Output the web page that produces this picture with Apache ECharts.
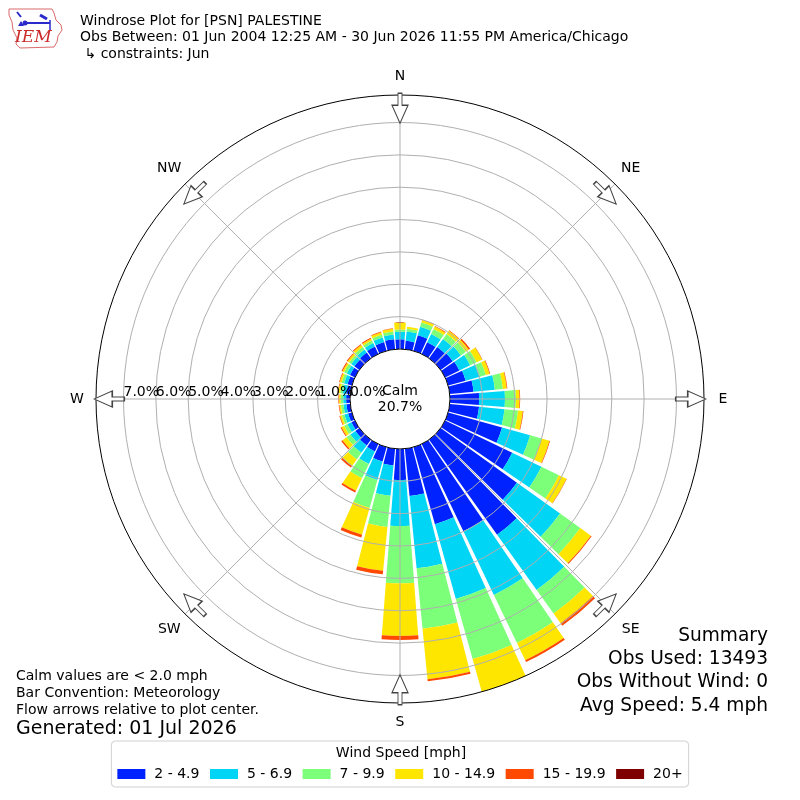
<!DOCTYPE html>
<html><head><meta charset="utf-8">
<script src="https://cdn.jsdelivr.net/npm/echarts@6/dist/echarts.min.js"></script>
<style>html,body{margin:0;padding:0;background:#fff}#c{width:800px;height:800px}</style>
</head><body><div id="c"></div>
<script>
// ---- data ----
const directionLabels = ['0°','10°','20°','30°','40°','50°','60°','70°','80°','90°','100°','110°','120°','130°','140°','150°','160°','170°',
  '180°','190°','200°','210°','220°','230°','240°','250°','260°','270°','280°','290°','300°','310°','320°','330°','340°','350°'];
const speedBins = ['2 - 4.9','5 - 6.9','7 - 9.9','10 - 14.9','15 - 19.9','20+'];
const binColors = ['#0022ff','#00d5f5','#7cff79','#ffe600','#ff4800','#7f0000'];
const bin2to5 = [0.30,0.26,0.50,0.40,0.43,0.46,0.49,0.56,0.74,0.90,0.91,1.73,2.30,2.90,3.61,2.99,2.47,1.47,
  0.96,0.52,0.46,0.25,0.22,0.15,0.12,0.12,0.12,0.12,0.12,0.14,0.17,0.19,0.22,0.25,0.28,0.31];
const bin5to7 = [0.23,0.29,0.27,0.28,0.31,0.31,0.37,0.46,0.66,0.80,0.79,0.90,1.00,1.64,2.10,2.18,2.40,2.24,
  1.42,0.94,0.59,0.43,0.28,0.19,0.14,0.12,0.09,0.09,0.11,0.11,0.11,0.12,0.12,0.12,0.15,0.15];
const bin7to10 = [0.07,0.09,0.14,0.17,0.19,0.19,0.22,0.19,0.25,0.34,0.42,0.37,0.60,0.77,0.90,1.65,1.93,1.88,
  1.77,0.97,0.90,0.49,0.25,0.15,0.11,0.08,0.08,0.08,0.08,0.08,0.09,0.08,0.09,0.09,0.09,0.09];
const bin10to15 = [0.22,0.06,0.08,0.09,0.12,0.11,0.19,0.12,0.12,0.11,0.15,0.25,0.26,0.40,0.37,0.59,1.05,1.57,
  1.63,1.36,0.86,0.43,0.25,0.15,0.09,0.06,0.05,0.05,0.06,0.06,0.06,0.06,0.08,0.06,0.08,0.09];
const bin15to20 = [0.00,0.00,0.01,0.02,0.02,0.05,0.01,0.02,0.02,0.02,0.02,0.02,0.01,0.03,0.09,0.06,0.00,0.06,
  0.12,0.11,0.09,0.06,0.06,0.05,0.03,0.02,0.02,0.02,0.02,0.02,0.03,0.03,0.03,0.03,0.02,0.01];
const bin20plus = [0,0,0,0,0,0,0,0,0,0,0,0,0,0,0,0,0,0,0,0,0,0,0,0,0,0,0,0,0,0,0,0,0,0,0,0];
const compassLabels = ['W','NW','N','NE','E','SE','S','SW','W'];
const arrowDirections = [0,45,90,135,180,225,270,315];
const calmPct = 20.7;
const RMAX = 7.85;
const summaryLines = ['Summary','Obs Used: 13493','Obs Without Wind: 0','Avg Speed: 5.4 mph'];
const noteLines = ['Calm values are < 2.0 mph','Bar Convention: Meteorology','Flow arrows relative to plot center.'];
const generatedText = 'Generated: 01 Jul 2026';
const titleLines = ['Windrose Plot for [PSN] PALESTINE','Obs Between: 01 Jun 2004 12:25 AM - 30 Jun 2026 11:55 PM America/Chicago',' \u21b3 constraints: Jun'];

// ---- chart ----
const FONT = 'DejaVu Sans';
const chart = echarts.init(document.getElementById('c'), null, {renderer:'canvas'});
const binData = [bin2to5, bin5to7, bin7to10, bin10to15, bin15to20, bin20plus];
const CX = 400, CY = 399, R0 = 50, R1 = 304;
const grey = '#b0b0b0';
const splitColors = ['#000', grey, grey, grey, grey, grey, grey, grey, '#000'];
const isInt = v => Math.abs(v - Math.round(v)) < 1e-6;
const pctLabel = v => '{t|' + Math.round(v).toFixed(1) + '%}';
const radialRich = {t: {align: 'left', fontSize: 14, fontFamily: FONT, color: '#000'}};

const barSeries = speedBins.map((name, i) => ({
  type: 'bar', name, coordinateSystem: 'polar', polarIndex: 0, stack: 'wind',
  data: binData[i], barCategoryGap: '12%', itemStyle: {color: binColors[i]},
  z: 2, silent: true, emphasis: {disabled: true}
}));

const txt = (text, x, y, size, align, extra) => ({
  type: 'text', z: 20, silent: true,
  style: Object.assign({text, x, y, fontSize: size, fontFamily: FONT, fill: '#000', align: align || 'left', verticalAlign: 'middle'}, extra || {})
});

const graphics = [];
titleLines.forEach((t, i) => graphics.push(txt(t, 80, 21 + i * 16.7, 14)));
summaryLines.forEach((t, i) => graphics.push(txt(t, 768, 636 + i * 23.3, 18.6, 'right')));
noteLines.forEach((t, i) => graphics.push(txt(t, 16, 676 + i * 17, 14)));
graphics.push(txt(generatedText, 16, 729, 19));
graphics.push(txt('Wind Speed [mph]', 401, 753, 14, 'center'));
// IEM logo
graphics.push({type:'polyline', z: 20, silent: true, shape:{points:[[9,9],[52,9],[54,13],[56,20],[61,25],[62,30],[58,36],[57,42],[54,47],[20,48],[16,44],[17,38],[13,30],[12,22],[9,15],[9,9]]},
  style:{stroke:'#d96a6a', lineWidth:1, fill:null}});
graphics.push({type:'polyline', z: 20, silent: true, shape:{points:[[25,23],[50,23]]}, style:{stroke:'#2a2acc', lineWidth:2}});
graphics.push({type:'polyline', z: 20, silent: true, shape:{points:[[17,12],[21,17]]}, style:{stroke:'#2a2acc', lineWidth:2}});
graphics.push({type:'polyline', z: 20, silent: true, shape:{points:[[40,15],[47,19]]}, style:{stroke:'#2a2acc', lineWidth:3}});
graphics.push({type:'polyline', z: 20, silent: true, shape:{points:[[50,20],[50,30]]}, style:{stroke:'#2a2acc', lineWidth:1.5}});
graphics.push({type:'circle', z: 20, silent: true, shape:{cx:25, cy:23, r:2.5}, style:{fill:'#2a2acc'}});
graphics.push({type:'polygon', z: 20, silent: true, shape:{points:[[18,26],[21,21],[24,26]]}, style:{fill:'#2a2acc'}});
graphics.push(txt('IEM', 15, 38, 17, 'left', {fontFamily:'DejaVu Serif', fontStyle:'italic', fill:'#cc2a2a'}));

const hiddenAngle = idx => ({polarIndex: idx, type: 'value', min: 0, max: 360, startAngle: 180, clockwise: true,
  axisLine: {show: false}, axisTick: {show: false}, axisLabel: {show: false}, splitLine: {show: false}});

const option = {
  animation: false,
  backgroundColor: '#fff',
  textStyle: {fontFamily: FONT},
  polar: [
    {center: [CX, CY], radius: [R0, R1]},
    {center: [CX, CY], radius: [R0, R1]},
    {center: [CX, CY], radius: [R0, R1]}
  ],
  angleAxis: [
    {polarIndex: 0, type: 'category', data: directionLabels, startAngle: 95, clockwise: true,
     axisLine: {show: false}, axisTick: {show: false}, axisLabel: {show: false}, splitLine: {show: false}},
    {polarIndex: 1, type: 'value', min: 0, max: 360, interval: 45, startAngle: 180, clockwise: true, z: 5,
     axisLine: {show: false}, axisTick: {show: false},
     axisLabel: {show: true, margin: 11, color: '#000',
       formatter: v => '{c|' + compassLabels[Math.round(v / 45)] + '}',
       rich: {c: {width: 16, height: 16, lineHeight: 16, align: 'center', verticalAlign: 'middle', fontSize: 14, fontFamily: FONT, color: '#000'}}},
     splitLine: {show: true, lineStyle: {color: grey, width: 1}}},
    hiddenAngle(2)
  ],
  radiusAxis: [
    {polarIndex: 0, min: 0, max: RMAX, axisLine: {show: false}, axisTick: {show: false}, axisLabel: {show: false}, splitLine: {show: false}},
    {polarIndex: 1, min: 0, max: RMAX, interval: 1, z: 5,
     axisLine: {show: false}, axisTick: {show: false},
     axisLabel: {show: true, margin: -7, color: '#000', align: 'left', verticalAlign: 'middle', hideOverlap: false,
       formatter: v => (isInt(v) && Math.round(v) > 0 ? pctLabel(v) : ''), rich: radialRich},
     splitLine: {show: true, lineStyle: {color: splitColors, width: 1}}},
    {polarIndex: 2, min: 0, max: RMAX, interval: 1, z: 5,
     axisLine: {show: false}, axisTick: {show: false}, splitLine: {show: false},
     axisLabel: {show: true, margin: -7, color: '#000', align: 'left', verticalAlign: 'middle', hideOverlap: false, showMinLabel: true,
       formatter: v => (Math.abs(v) < 1e-6 ? pctLabel(v) : ''), rich: radialRich}}
  ],
  legend: {
    data: speedBins, left: 'center', top: 741, orient: 'horizontal',
    itemWidth: 28, itemHeight: 10, itemGap: 10.5, icon: 'rect',
    padding: [26, 6, 6, 6], borderColor: '#d0d0d0', borderWidth: 1, borderRadius: 4, backgroundColor: '#fff',
    textStyle: {fontSize: 14, fontFamily: FONT, color: '#000', padding: [0, 0, 0, 4]},
    selectedMode: false
  },
  series: barSeries.concat([
    {type: 'pie', center: [CX, CY], radius: [0, R0], silent: true, z: 3,
     data: [{value: calmPct, name: 'Calm'}], itemStyle: {color: '#fff'},
     label: {show: true, position: 'center', formatter: 'Calm\n' + calmPct.toFixed(1) + '%', fontSize: 14, lineHeight: 16, color: '#000', fontFamily: FONT},
     labelLine: {show: false}, emphasis: {disabled: true}},
    {type: 'scatter', coordinateSystem: 'polar', polarIndex: 1, silent: true, z: 6,
     symbol: 'path://M6,0L10,0L10,12L16,12L8,30L0,12L6,12Z', symbolSize: [16, 30],
     itemStyle: {color: '#fff', borderColor: '#444', borderWidth: 1.2, opacity: 1},
     data: arrowDirections.map(a => ({value: [RMAX - 0.41, a], symbolRotate: a - 90}))}
  ]),
  graphic: graphics
};
chart.setOption(option);
</script>
</body></html>
